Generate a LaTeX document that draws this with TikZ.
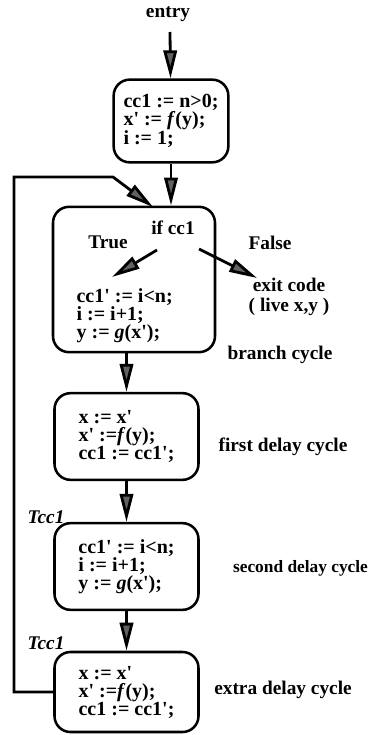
\documentclass[tikz,border=0pt]{standalone}
\usepackage{fontspec}
\setmainfont{Liberation Serif}
\usetikzlibrary{arrows.meta, positioning}
\newcommand{\prm}{\textquotesingle}

\begin{document}
\begin{tikzpicture}[
	x = 0.75pt, y = -0.75pt,
	> = {Triangle[length=21pt,width=10pt,fill=black!62]},
	every node/.style = {font=\bfseries\fontsize{14.5}{13.5}\selectfont, inner sep=1pt},
	block/.style = {draw, line width=1.9pt, rounded corners=12pt, align=left,
		font=\bfseries\fontsize{15}{13.5}\selectfont,
		minimum width=108pt, minimum height=65pt},
	flow/.style = {line width=2.1pt}
	]
	\useasboundingbox (0,0) rectangle (370,735);

	\node (entry) at (168,14) {entry};
	\coordinate (in) at (170,32);
	\node[block, minimum width=86pt, minimum height=62pt] (init) at (171,121)
		{cc1 := n>0;\\ x\prm{} := \textit{f}(y);\\ i := 1;};

	% branch cycle
	\node[block, minimum width=121.5pt, minimum height=109pt] (branch) at (134,279.5) {};
	\node (cond) at (173,228) {if cc1};
	\node (true) at (108,242) {True};
	\node (false) at (270,243) {False};
	\node[align=center] (exit) at (289,297) {exit code\\[2pt]( live x,y )};
	\node[align=left, anchor=west, font=\bfseries\fontsize{15}{13.5}\selectfont] (body) at (75,316)
		{cc1\prm{} := i<n;\\ i := i+1;\\ y := \textit{g}(x\prm);};
	\node (brlbl) at (280,355) {branch cycle};

	% delay cycles
	\node[block] (delay1) at (126.5,436.5) {x := x\prm\\ x\prm{} :=\textit{f}(y);\\ cc1 := cc1\prm;};
	\node (d1lbl) at (283,447) {first delay cycle};
	\node[block] (delay2) at (126.5,566.5) {cc1\prm{} := i<n;\\ i := i+1;\\ y := \textit{g}(x\prm);};
	\node[anchor=east, font=\bfseries\fontsize{13}{13}\selectfont] (d2lbl) at (369.5,568) {second delay cycle};
	\node[block, minimum height=60pt] (delay3) at (126.5,692) {x := x\prm\\ x\prm{} :=\textit{f}(y);\\ cc1 := cc1\prm;};
	\node (d3lbl) at (283,690) {extra delay cycle};
	\node (tc1) at (46,517) {\textit{Tcc1}};
	\node (tc2) at (46,643) {\textit{Tcc1}};

	\coordinate (ts) at (157,250);
	\coordinate (te) at (112,277);
	\coordinate (fs) at (199,249);
	\coordinate (fe) at (257,278);
	\coordinate (lpa) at (14,177);
	\coordinate (lpb) at (113,177);
	\coordinate (back) at (153,207);

	\path[->, flow]
	(in) edge (init)
	(init.south) edge (init.south |- branch.north)
	(ts) edge (te)
	(fs) edge (fe)
	(branch.south -| delay1.north) edge (delay1.north)
	(delay1) edge (delay2)
	(delay2) edge (delay3);
	\draw[->, flow] (delay3.west) -| (lpa) -- (lpb) -- (back);
\end{tikzpicture}
\end{document}
